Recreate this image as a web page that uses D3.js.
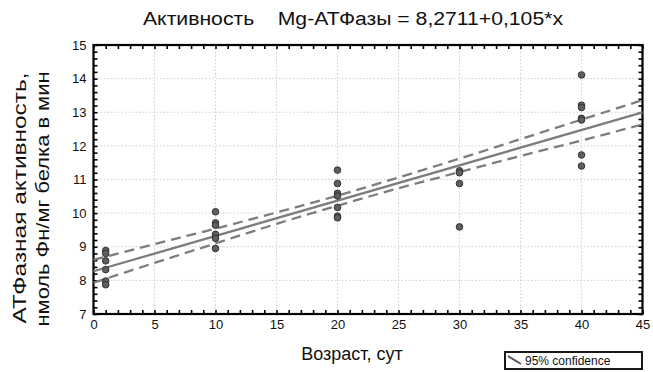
<!DOCTYPE html>
<html>
<head>
<meta charset="utf-8">
<script src="https://cdn.jsdelivr.net/npm/d3@7"></script>
<style>
  body { margin: 0; background: #fff; }
  svg { font-family: "Liberation Sans", Arial, sans-serif; }
</style>
</head>
<body>
<svg id="chart" width="653" height="372"></svg>
<script>
// data
var ageGroups = [1, 10, 20, 30, 40];
var activity = [
  [8.89, 8.80, 8.58, 8.32, 7.98, 7.87],
  [10.04, 9.71, 9.64, 9.37, 9.25, 8.95],
  [11.28, 10.88, 10.59, 10.51, 10.17, 9.91, 9.86],
  [11.26, 11.20, 10.88, 9.59],
  [14.11, 13.21, 13.14, 12.82, 12.77, 11.73, 11.40]
];
var fitX = [0, 45];
var fitY = [8.2711, 12.9961];
var bandX = [0, 5, 10, 15, 20, 25, 30, 35, 40, 45];
var bandUpper = [8.61, 9.08, 9.54, 10.02, 10.52, 11.06, 11.62, 12.20, 12.78, 13.36];
var bandLower = [7.93, 8.52, 9.10, 9.68, 10.22, 10.74, 11.22, 11.70, 12.16, 12.64];
var xTicks = [0, 5, 10, 15, 20, 25, 30, 35, 40, 45];
var yTicks = [7, 8, 9, 10, 11, 12, 13, 14, 15];

var svg = d3.select("#chart");
var pLeft = 93.5, pRight = 642.5, pTop = 45, pBottom = 314;

var x = d3.scaleLinear().domain([0, 45]).range([pLeft, pRight]);
var y = d3.scaleLinear().domain([7, 15]).range([pBottom, pTop]);

//dotted grid
svg.append("g").selectAll("line").data(xTicks.slice(1, -1)).enter().append("line")
  .attr("x1", d => x(d)).attr("x2", d => x(d))
  .attr("y1", pTop).attr("y2", pBottom)
  .attr("stroke", "#cfcfcf").attr("stroke-dasharray", "1.5,2");
svg.append("g").selectAll("line").data(yTicks.slice(1, -1)).enter().append("line")
  .attr("y1", d => y(d)).attr("y2", d => y(d))
  .attr("x1", pLeft).attr("x2", pRight)
  .attr("stroke", "#cfcfcf").attr("stroke-dasharray", "1.5,2");

//minor ticks on all four sides, pointing inward
var xMinor = d3.range(0, 46, 1);
var yMinor = d3.range(7, 15.001, 0.2);
function styleAxis(g) {
  g.select(".domain").remove();
  g.selectAll(".tick line").attr("stroke", "#000").attr("stroke-width", 1.6);
}
svg.append("g").attr("transform", "translate(0," + pBottom + ")")
  .call(d3.axisBottom(x).tickValues(xMinor).tickSize(-4).tickFormat("")).call(styleAxis);
svg.append("g").attr("transform", "translate(0," + pTop + ")")
  .call(d3.axisTop(x).tickValues(xMinor).tickSize(-4).tickFormat("")).call(styleAxis);
svg.append("g").attr("transform", "translate(" + pLeft + ",0)")
  .call(d3.axisLeft(y).tickValues(yMinor).tickSize(-4).tickFormat("")).call(styleAxis);
svg.append("g").attr("transform", "translate(" + pRight + ",0)")
  .call(d3.axisRight(y).tickValues(yMinor).tickSize(-4).tickFormat("")).call(styleAxis);

//tick labels
svg.append("g").attr("transform", "translate(0," + pBottom + ")")
  .call(d3.axisBottom(x).tickValues(xTicks).tickSize(0).tickPadding(6))
  .call(g => g.select(".domain").remove())
  .selectAll("text").attr("font-size", 13).attr("font-family", "Liberation Sans, Arial").attr("fill", "#111");
svg.append("g").attr("transform", "translate(" + pLeft + ",0)")
  .call(d3.axisLeft(y).tickValues(yTicks).tickSize(0).tickPadding(7))
  .call(g => g.select(".domain").remove())
  .selectAll("text").attr("font-size", 13).attr("font-family", "Liberation Sans, Arial").attr("fill", "#111");

//frame
svg.append("rect")
  .attr("x", pLeft).attr("y", pTop)
  .attr("width", pRight - pLeft).attr("height", pBottom - pTop)
  .attr("fill", "none").attr("stroke", "#000").attr("stroke-width", 2.2);

//confidence band
var bandLine = d3.line().curve(d3.curveNatural);
[bandUpper, bandLower].forEach(function(vals) {
  svg.append("path")
    .attr("d", bandLine(bandX.map((d, i) => [x(d), y(vals[i])])))
    .attr("fill", "none").attr("stroke", "#7d7d7d")
    .attr("stroke-width", 2.3).attr("stroke-dasharray", "10,6");
});

//regression line
svg.append("path")
  .attr("d", d3.line()(fitX.map((d, i) => [x(d), y(fitY[i])])))
  .attr("fill", "none").attr("stroke", "#7d7d7d").attr("stroke-width", 2.3);

//points
var pts = [];
ageGroups.forEach(function(a, i) {
  activity[i].forEach(function(v) { pts.push({ age: a, val: v }); });
});
svg.append("g").selectAll("circle").data(pts).enter().append("circle")
  .attr("cx", d => x(d.age)).attr("cy", d => y(d.val)).attr("r", 3.3)
  .attr("fill", "#5e5e5e").attr("stroke", "#333").attr("stroke-width", 1);

//title
svg.append("text")
  .attr("x", 353).attr("y", 25)
  .attr("text-anchor", "middle")
  .attr("font-size", 18)
  .attr("textLength", 420).attr("lengthAdjust", "spacingAndGlyphs")
  .attr("fill", "#111")
  .attr("xml:space", "preserve")
  .text("Активность    Mg-АТФазы = 8,2711+0,105*x");

//axis titles
svg.append("text")
  .attr("transform", "translate(26,198) rotate(-90)")
  .attr("text-anchor", "middle").attr("font-size", 18).attr("fill", "#111")
  .attr("textLength", 251).attr("lengthAdjust", "spacingAndGlyphs")
  .text("АТФазная активность,");
svg.append("text")
  .attr("transform", "translate(49,199) rotate(-90)")
  .attr("text-anchor", "middle").attr("font-size", 18).attr("fill", "#111")
  .attr("textLength", 255).attr("lengthAdjust", "spacingAndGlyphs")
  .text("нмоль Фн/мг белка в мин");

svg.append("text")
  .attr("x", 352).attr("y", 360)
  .attr("text-anchor", "middle").attr("font-size", 18).attr("fill", "#111")
  .text("Возраст, сут");

//legend
var leg = svg.append("g").attr("transform", "translate(505,352)");
leg.append("rect").attr("width", 137).attr("height", 17)
  .attr("fill", "#fff").attr("stroke", "#000").attr("stroke-width", 1.8);
leg.append("line").attr("x1", 3).attr("y1", 4).attr("x2", 16).attr("y2", 12)
  .attr("stroke", "#555").attr("stroke-width", 2);
leg.append("text").attr("x", 20).attr("y", 13)
  .attr("font-size", 12).attr("fill", "#111")
  .text("95% confidence");
</script>
</body>
</html>
